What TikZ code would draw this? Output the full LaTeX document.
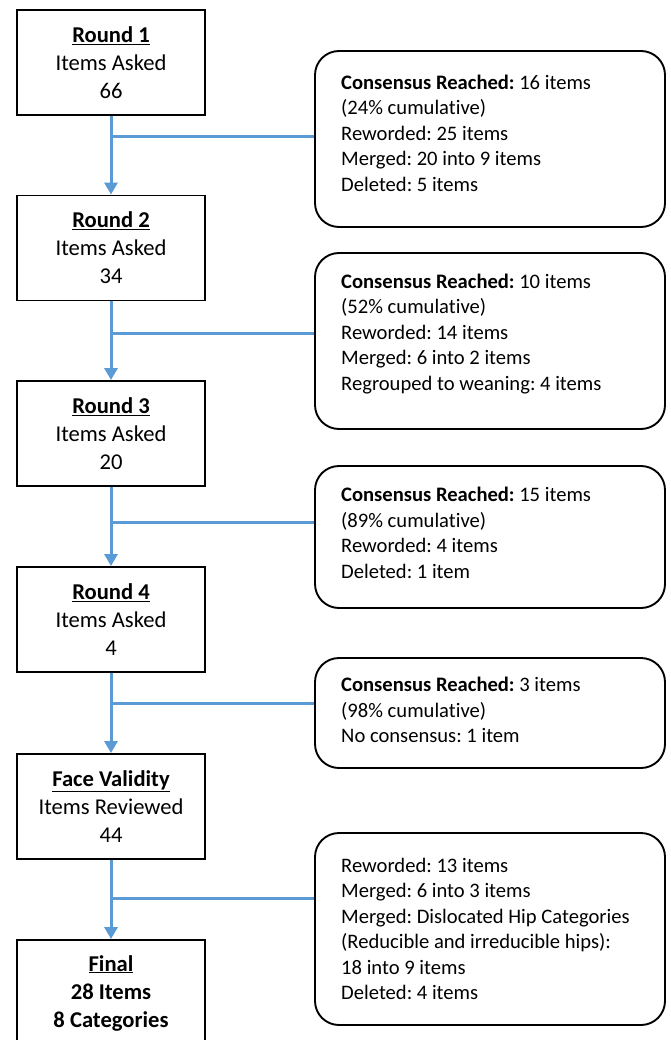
\documentclass[tikz,border=0pt]{standalone}
\usepackage{fontspec}
\setmainfont{Carlito}[Ligatures=NoCommon]
\usepackage{xcolor}
\usetikzlibrary{arrows.meta}
\definecolor{flowblue}{RGB}{91,155,213}
\frenchspacing

\begin{document}
\begin{tikzpicture}[x=1pt,y=-1pt,
    round/.style={draw,line width=1.9pt,minimum width=188pt,minimum height=105pt,
        inner sep=0pt,align=center,font=\fontsize{22.6}{28}\selectfont},
    result/.style={draw,line width=1.9pt,rounded corners=24pt,
        minimum width=350pt,inner sep=0pt},
    resulttext/.style={anchor=west,align=left,inner sep=0pt,
        font=\fontsize{20.6}{25.5}\selectfont},
    flow/.style={-{Triangle[width=13pt,length=12pt]},draw=flowblue,line width=3pt},
    branch/.style={draw=flowblue,line width=3pt}
]
    \useasboundingbox (0,0) rectangle (671,1040);

    \node[round] (r1) at (111,62.5) {\underline{\textbf{Round 1}}\\Items Asked\\66};
    \node[round] (r2) at (111,248) {\underline{\textbf{Round 2}}\\Items Asked\\34};
    \node[round] (r3) at (111,433.5) {\underline{\textbf{Round 3}}\\Items Asked\\20};
    \node[round] (r4) at (111,619.5) {\underline{\textbf{Round 4}}\\Items Asked\\4};
    \node[round] (face) at (111,806.5) {\underline{\textbf{Face Validity}}\\Items Reviewed\\44};
    \node[round,minimum height=106pt] (final) at (111,993)
        {\underline{\textbf{Final}}\\\textbf{28 Items}\\\textbf{8 Categories}};

    \node[result,minimum height=176pt] (n1) at (490,139) {};
    \node[result,minimum height=176pt] (n2) at (490,341) {};
    \node[result,minimum height=142pt] (n3) at (490,537) {};
    \node[result,minimum height=110pt] (n4) at (490,713) {};
    \node[result,minimum height=192pt] (n5) at (490,929) {};

    \node[resulttext] (t1) at (341,133) {\textbf{Consensus Reached:} 16 items\\(24\% cumulative)\\
        Reworded: 25 items\\Merged: 20 into 9 items\\Deleted: 5 items};
    \node[resulttext] (t2) at (341,334) {\textbf{Consensus Reached:} 10 items\\(52\% cumulative)\\
        Reworded: 14 items\\Merged: 6 into 2 items\\Regrouped to weaning: 4 items};
    \node[resulttext] (t3) at (341,533) {\textbf{Consensus Reached:} 15 items\\(89\% cumulative)\\
        Reworded: 4 items\\Deleted: 1 item};
    \node[resulttext] (t4) at (341,710) {\textbf{Consensus Reached:} 3 items\\(98\% cumulative)\\
        No consensus: 1 item};
    \node[resulttext] (t5) at (341,929) {Reworded: 13 items\\Merged: 6 into 3 items\\
        Merged: Dislocated Hip Categories\\(Reducible and irreducible hips):\\
        18 into 9 items\\Deleted: 4 items};

    \draw[flow] (r1)--(r2);
    \draw[flow] (r2)--(r3);
    \draw[flow] (r3)--(r4);
    \draw[flow] (r4)--(face);
    \draw[flow] (face)--(final);

    \coordinate (j1) at (111,137);
    \coordinate (j2) at (111,333);
    \coordinate (j3) at (111,522);
    \coordinate (j4) at (111,703);
    \coordinate (j5) at (111,898);
    \draw[branch] (j1) -- (j1 -| n1.west);
    \draw[branch] (j2) -- (j2 -| n2.west);
    \draw[branch] (j3) -- (j3 -| n3.west);
    \draw[branch] (j4) -- (j4 -| n4.west);
    \draw[branch] (j5) -- (j5 -| n5.west);
\end{tikzpicture}
\end{document}
